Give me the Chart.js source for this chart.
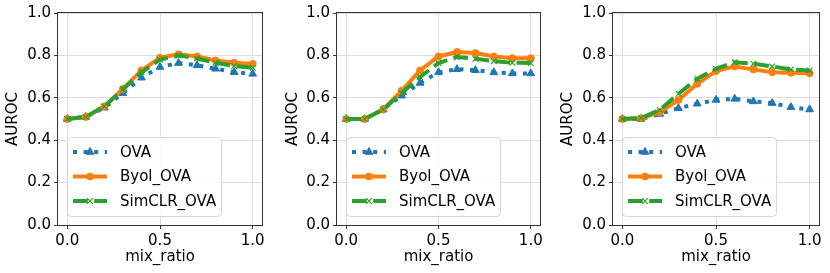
<!DOCTYPE html>
<html>
<head>
<meta charset="utf-8">
<script src="https://cdn.jsdelivr.net/npm/chart.js@4/dist/chart.umd.min.js"></script>
<style>
  body { margin: 0; background: #fff; width: 830px; height: 273px; position: relative; overflow: hidden; }
  canvas { position: absolute; top: 0; }
</style>
</head>
<body>
<canvas id="panel1" width="272" height="273" style="left:0px"></canvas>
<canvas id="panel2" width="270" height="273" style="left:280px"></canvas>
<canvas id="panel3" width="274" height="273" style="left:555px"></canvas>
<script>
const mixRatio = [0.0, 0.1, 0.2, 0.3, 0.4, 0.5, 0.6, 0.7, 0.8, 0.9, 1.0];
const seriesNames = ["OVA", "Byol_OVA", "SimCLR_OVA"];
const xTicks = [0.0, 0.5, 1.0];
const yTicks = [0.0, 0.2, 0.4, 0.6, 0.8, 1.0];

// left panel
const ova1    = [0.50, 0.51, 0.553, 0.622, 0.695, 0.745, 0.764, 0.753, 0.737, 0.721, 0.713];
const byol1   = [0.50, 0.51, 0.559, 0.642, 0.729, 0.789, 0.805, 0.795, 0.776, 0.765, 0.760];
const simclr1 = [0.50, 0.51, 0.560, 0.640, 0.720, 0.780, 0.800, 0.785, 0.765, 0.750, 0.742];

// middle panel
const ova2    = [0.50, 0.50, 0.545, 0.610, 0.670, 0.720, 0.735, 0.730, 0.720, 0.715, 0.715];
const byol2   = [0.50, 0.50, 0.545, 0.633, 0.729, 0.795, 0.816, 0.811, 0.795, 0.787, 0.787];
const simclr2 = [0.50, 0.50, 0.545, 0.622, 0.698, 0.764, 0.792, 0.784, 0.773, 0.765, 0.764];

// right panel
const ova3    = [0.50, 0.50, 0.524, 0.551, 0.572, 0.590, 0.595, 0.583, 0.575, 0.556, 0.545];
const byol3   = [0.50, 0.504, 0.532, 0.590, 0.666, 0.726, 0.748, 0.734, 0.721, 0.718, 0.716];
const simclr3 = [0.50, 0.505, 0.543, 0.619, 0.690, 0.737, 0.768, 0.761, 0.748, 0.734, 0.729];

Chart.defaults.font.family = "DejaVu Sans";
Chart.defaults.font.size = 15;
Chart.defaults.color = "#000";

const styles = [
    { color: "#1f77b4", dash: [4, 6.6], pointStyle: "triangle", radius: 4.5, pointBorderWidth: 1 },
    { color: "#ff7f0e", dash: [], pointStyle: "circle", radius: 3.5, pointBorderWidth: 1 },
    { color: "#2ca02c", dash: [14.8, 6.4], pointStyle: "crossRot", radius: 4, pointBorderWidth: 1.2 },
];

function toPoints(values) {
    return mixRatio.map((x, i) => ({ x: x, y: values[i] }));
}

// spines on all four sides, drawn over the lines like matplotlib
const frame = {
    id: 'frame',
    afterDatasetsDraw: (chart) => {
        const {ctx, chartArea} = chart;
        ctx.save();
        ctx.strokeStyle = '#333';
        ctx.lineWidth = 1;
        ctx.strokeRect(Math.round(chartArea.left) - 0.5, Math.round(chartArea.top) - 0.5,
            Math.round(chartArea.right - chartArea.left) + 1, Math.round(chartArea.bottom - chartArea.top) + 1);
        ctx.restore();
    }
};

// legend box in the lower left corner of the plot area
const insideLegend = {
    id: 'insideLegend',
    afterDraw: (chart) => {
        const {ctx, chartArea} = chart;
        const sets = chart.data.datasets;
        ctx.save();
        ctx.font = "15px 'DejaVu Sans'";
        let textW = 0;
        sets.forEach(ds => { textW = Math.max(textW, ctx.measureText(ds.label).width); });
        const rowH = 24.5;
        const h = 79;
        const x0 = chartArea.left + 9;
        const y0 = chartArea.bottom - 9 - h;
        const w = 53 + textW + 5;

        ctx.beginPath();
        ctx.roundRect(x0 + 0.5, y0 + 0.5, w, h, 4);
        ctx.fillStyle = 'rgba(255,255,255,0.85)';
        ctx.fill();
        ctx.strokeStyle = '#d5d5d5';
        ctx.lineWidth = 1;
        ctx.stroke();

        sets.forEach((ds, i) => {
            const cy = y0 + 15 + i * rowH;
            const lx = x0 + 6;
            ctx.beginPath();
            ctx.setLineDash(ds.borderDash);
            ctx.strokeStyle = ds.borderColor;
            ctx.lineWidth = ds.borderWidth;
            ctx.moveTo(lx, cy);
            ctx.lineTo(lx + 34, cy);
            ctx.stroke();
            ctx.setLineDash([]);
            ctx.fillStyle = ds.pointBackgroundColor;
            ctx.strokeStyle = ds.pointBorderColor;
            ctx.lineWidth = ds.pointBorderWidth;
            Chart.helpers.drawPoint(ctx, {
                pointStyle: ds.pointStyle,
                radius: ds.pointRadius,
                borderWidth: ds.pointBorderWidth,
                rotation: 0
            }, lx + 17, cy);
            ctx.fillStyle = '#000';
            ctx.textBaseline = 'middle';
            ctx.textAlign = 'left';
            ctx.fillText(ds.label, x0 + 53, cy + 1);
        });
        ctx.restore();
    }
};

function makePanel(id, yWidth, ova, byol, simclr) {
    const series = [ova, byol, simclr];
    const datasets = series.map((vals, i) => ({
        label: seriesNames[i],
        data: toPoints(vals),
        borderColor: styles[i].color,
        backgroundColor: styles[i].color,
        borderWidth: 4,
        borderDash: styles[i].dash,
        pointStyle: styles[i].pointStyle,
        pointRadius: styles[i].radius,
        pointBorderWidth: styles[i].pointBorderWidth,
        pointBackgroundColor: styles[i].color,
        pointBorderColor: styles[i].color,
        tension: 0,
        order: 2 - i,
    }));

    return new Chart(document.getElementById(id).getContext('2d'), {
        type: 'line',
        data: { datasets: datasets },
        options: {
            responsive: false,
            animation: false,
            events: [],
            layout: {
                padding: { left: 0, right: 10, top: 13, bottom: 0 }
            },
            scales: {
                x: {
                    type: 'linear',
                    min: -0.05,
                    max: 1.05,
                    afterBuildTicks: (scale) => { scale.ticks = xTicks.map(v => ({ value: v })); },
                    afterFit: (scale) => { scale.height = 48; },
                    grid: {
                        color: '#dcdcdc',
                        lineWidth: 1,
                        tickLength: 4,
                        tickColor: '#333',
                    },
                    border: { display: false },
                    ticks: {
                        padding: 3,
                        maxRotation: 0,
                        callback: (v) => Number(v).toFixed(1),
                    },
                    title: {
                        display: true,
                        text: 'mix_ratio',
                        padding: { top: 0, bottom: 7 },
                    }
                },
                y: {
                    min: 0,
                    max: 1,
                    afterBuildTicks: (scale) => { scale.ticks = yTicks.map(v => ({ value: v })); },
                    afterFit: (scale) => { scale.width = yWidth; },
                    grid: {
                        color: '#dcdcdc',
                        lineWidth: 1,
                        tickLength: 4,
                        tickColor: '#333',
                    },
                    border: { display: false },
                    ticks: {
                        padding: 3,
                        callback: (v) => Number(v).toFixed(1),
                    },
                    title: {
                        display: true,
                        text: 'AUROC',
                        padding: { top: 4, bottom: 0 },
                    }
                }
            },
            plugins: {
                legend: { display: false },
                tooltip: { enabled: false },
            }
        },
        plugins: [frame, insideLegend],
    });
}

makePanel('panel1', 58, ova1, byol1, simclr1);
makePanel('panel2', 57, ova2, byol2, simclr2);
makePanel('panel3', 58, ova3, byol3, simclr3);
</script>
</body>
</html>
